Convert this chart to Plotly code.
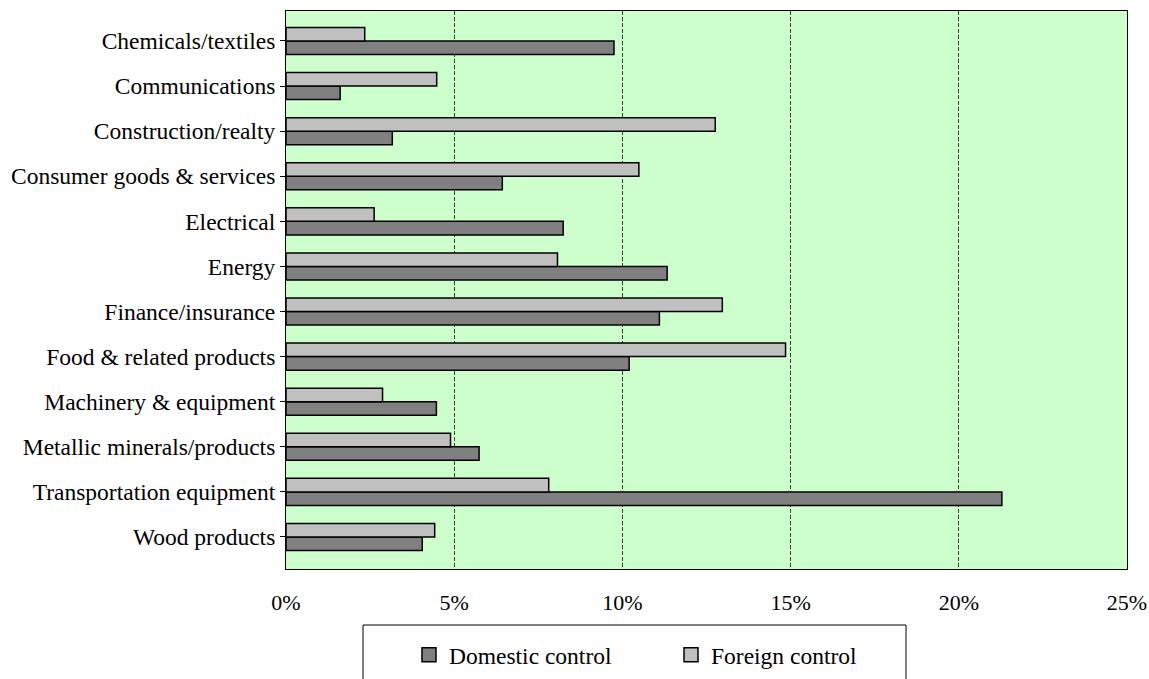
import plotly.graph_objects as go

# Share of activity by industry, split by type of control (percent)
industries = [
    "Chemicals/textiles",
    "Communications",
    "Construction/realty",
    "Consumer goods & services",
    "Electrical",
    "Energy",
    "Finance/insurance",
    "Food & related products",
    "Machinery & equipment",
    "Metallic minerals/products",
    "Transportation equipment",
    "Wood products",
]
domestic = [9.75, 1.61, 3.16, 6.43, 8.24, 11.33, 11.1, 10.2, 4.47, 5.74, 21.28, 4.05]
foreign = [2.34, 4.48, 12.76, 10.49, 2.62, 8.07, 12.97, 14.85, 2.87, 4.89, 7.81, 4.42]
x_ticks = [0, 5, 10, 15, 20, 25]
x_tick_text = [f"{v}%" for v in x_ticks]

FONT = "Liberation Serif"
DOM_COLOR = "#808080"
FOR_COLOR = "#c0c0c0"

fig = go.Figure()
fig.add_trace(go.Bar(
    name="Domestic control", y=industries, x=domestic, orientation="h",
    marker=dict(color=DOM_COLOR, line=dict(color="black", width=1.5)),
    showlegend=False,
))
fig.add_trace(go.Bar(
    name="Foreign control", y=industries, x=foreign, orientation="h",
    marker=dict(color=FOR_COLOR, line=dict(color="black", width=1.5)),
    showlegend=False,
))
# legend keys drawn as larger square swatches
for name, col in [("Domestic control", DOM_COLOR), ("Foreign control", FOR_COLOR)]:
    fig.add_trace(go.Scatter(
        name=name, x=[None], y=[None], mode="markers",
        marker=dict(symbol="square", size=14, color=col, line=dict(color="black", width=1.5)),
        showlegend=True,
    ))

W, H = 1149, 679
L, R, T, B = 286, 22, 11, 110
pw, ph = W - L - R, H - T - B

def px_to_paper(xp, yp):
    return (xp - L) / pw, (H - B - yp) / ph

# legend frame
x0, y0 = px_to_paper(363, 625)
x1, y1 = px_to_paper(906, 690)
fig.add_shape(type="rect", xref="paper", yref="paper", x0=x0, x1=x1, y0=y0, y1=y1,
              line=dict(color="black", width=1), fillcolor="white", layer="below")

lx, ly = px_to_paper(409, 655)

fig.update_layout(
    width=W, height=H,
    margin=dict(l=L, r=R, t=T, b=B, pad=0, autoexpand=False),
    paper_bgcolor="white",
    plot_bgcolor="#ccffcc",
    barmode="group",
    bargap=0.4,
    bargroupgap=0,
    font=dict(family=FONT, size=23, color="black"),
    showlegend=True,
    legend=dict(
        orientation="h", x=lx, y=ly, xanchor="left", yanchor="middle",
        bgcolor="rgba(0,0,0,0)", borderwidth=0,
        font=dict(family=FONT, size=23.5, color="black"),
        entrywidth=217, traceorder="normal", itemsizing="trace",
    ),
    xaxis=dict(
        range=[0, 25], tickvals=x_ticks, ticktext=x_tick_text,
        showgrid=True, gridcolor="#404040", gridwidth=1, griddash="4px,2px",
        zeroline=False, showline=True, mirror=True, linecolor="black", linewidth=1,
        ticks="", tickfont=dict(family=FONT, size=22), ticklabelstandoff=14,
        automargin=False,
    ),
    yaxis=dict(
        categoryorder="array", categoryarray=industries[::-1],
        range=[-0.71, 11.665],
        showgrid=False, zeroline=False, showline=True, mirror=True,
        linecolor="black", linewidth=1,
        ticks="outside", ticklen=5, tickcolor="black", tickwidth=1,
        tickfont=dict(family=FONT, size=23.5), automargin=False,
    ),
)

fig.write_html("out.html")
